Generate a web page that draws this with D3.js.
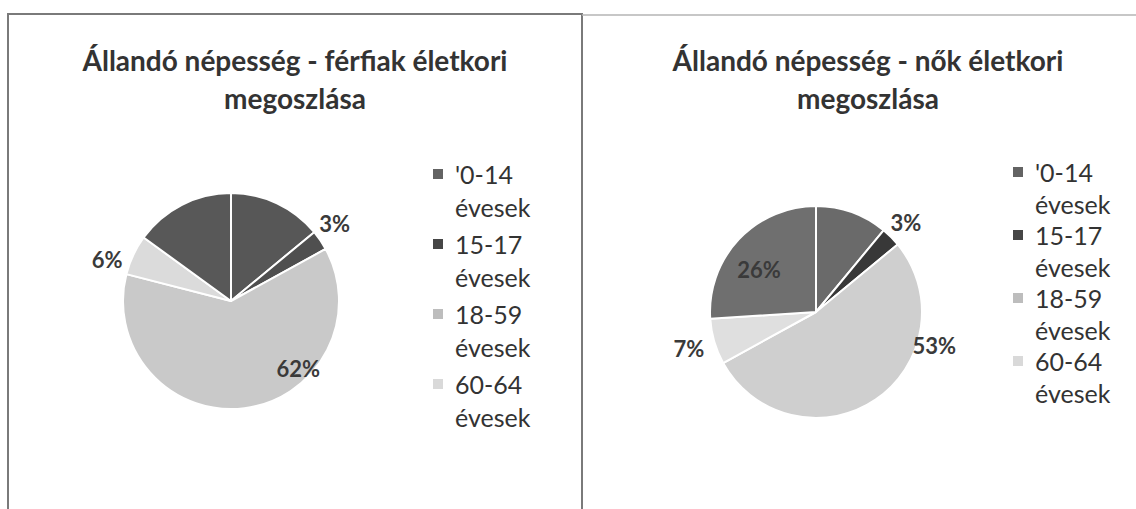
<!DOCTYPE html>
<html>
<head>
<meta charset="utf-8">
<script src="https://cdn.jsdelivr.net/npm/d3@7"></script>
<style>
  body { margin: 0; background: #fff; }
  svg { display: block; font-family: Lato, "Open Sans", sans-serif; }
</style>
</head>
<body>
<svg id="chart" width="1136" height="509"></svg>
<script>
// age groups (the last one is not listed in the legend of the original)
const categories = ["'0-14 évesek", "15-17 évesek", "18-59 évesek", "60-64 évesek", "65- évesek"];
const legendCount = 4;

const maleValues = [14, 3, 62, 6, 15];
const femaleValues = [11, 3, 53, 7, 26];

const maleTitle = ["Állandó népesség - férfiak életkori", "megoszlása"];
const femaleTitle = ["Állandó népesség - nők életkori", "megoszlása"];

const maleColors = ["#575757", "#4f4f4f", "#c9c9c9", "#dbdbdb", "#585858"];
const femaleColors = ["#6a6a6a", "#383838", "#cfcfcf", "#dfdfdf", "#6f6f6f"];
const legendColors = ["#636363", "#464646", "#bdbdbd", "#d9d9d9"];

// where each percentage label sits: f = fraction across the slice angle, k = radius factor
const maleLabelPos = [null, { f: 0.25, k: 1.2 }, { f: 0.33, k: 0.88 }, { f: 0.2, k: 1.21 }, null];
const femaleLabelPos = [null, { f: 0.5, k: 1.2 }, { f: 0.29, k: 1.16 }, { f: 0.5, k: 1.25 }, { f: 0.43, k: 0.67 }];

const svg = d3.select("#chart");

// panel frames
svg.append("path")
  .attr("d", "M8,509 V14 H582 V509")
  .attr("fill", "none").attr("stroke", "#7a7a7a").attr("stroke-width", 2);
svg.append("line")
  .attr("x1", 582).attr("x2", 1136).attr("y1", 15).attr("y2", 15)
  .attr("stroke", "#b5b5b5").attr("stroke-width", 1.5);

const pct = d3.format(".0%");

function drawPie(cfg) {
  const g = svg.append("g");

  // title
  g.append("text")
    .attr("x", cfg.titleX).attr("y", 71)
    .attr("text-anchor", "middle")
    .attr("font-size", 28).attr("font-weight", 700).attr("fill", "#333")
    .selectAll("tspan").data(cfg.title).join("tspan")
    .attr("x", cfg.titleX)
    .attr("dy", (d, i) => i === 0 ? 0 : 38)
    .text(d => d);

  const total = d3.sum(cfg.values);
  const pie = d3.pie().sort(null).value(d => d);
  const arcs = pie(cfg.values);
  const arc = d3.arc().innerRadius(0).outerRadius(cfg.r);

  const pg = g.append("g").attr("transform", `translate(${cfg.cx},${cfg.cy})`);
  pg.selectAll("path").data(arcs).join("path")
    .attr("d", arc)
    .attr("fill", (d, i) => cfg.colors[i])
    .attr("stroke", "#fff")
    .attr("stroke-width", 2)
    .attr("stroke-linejoin", "round");

  pg.selectAll("text").data(arcs.filter((d, i) => cfg.labelPos[i]))
    .join("text")
    .each(function (d) {
      const p = cfg.labelPos[d.index];
      const a = d.startAngle + p.f * (d.endAngle - d.startAngle);
      const rr = cfg.r * p.k;
      d3.select(this)
        .attr("x", Math.sin(a) * rr)
        .attr("y", -Math.cos(a) * rr);
    })
    .attr("text-anchor", "middle")
    .attr("dominant-baseline", "central")
    .attr("font-size", 22).attr("font-weight", 700)
    .attr("fill", "#3a3a3a")
    .text(d => pct(d.data / total));

  // legend
  const lg = g.append("g");
  const items = lg.selectAll("g").data(categories.slice(0, legendCount)).join("g")
    .attr("transform", (d, i) => `translate(${cfg.legX},${cfg.legY + i * cfg.legStep})`);
  items.append("rect")
    .attr("x", -22).attr("y", -15).attr("width", 10).attr("height", 10)
    .attr("fill", (d, i) => legendColors[i]);
  items.append("text")
    .attr("font-size", 25).attr("fill", "#333")
    .selectAll("tspan").data(d => {
      const s = d.indexOf(" ");
      return [d.slice(0, s), d.slice(s + 1)];
    }).join("tspan")
    .attr("x", 0)
    .attr("dy", (d, i) => i === 0 ? 0 : cfg.legLine)
    .text(d => d);
}

drawPie({
  title: maleTitle, titleX: 295,
  values: maleValues, colors: maleColors, labelPos: maleLabelPos,
  cx: 231, cy: 301, r: 108,
  legX: 455, legY: 184, legStep: 70, legLine: 33
});

drawPie({
  title: femaleTitle, titleX: 868,
  values: femaleValues, colors: femaleColors, labelPos: femaleLabelPos,
  cx: 816, cy: 312, r: 106,
  legX: 1035, legY: 182, legStep: 63, legLine: 32
});
</script>
</body>
</html>
